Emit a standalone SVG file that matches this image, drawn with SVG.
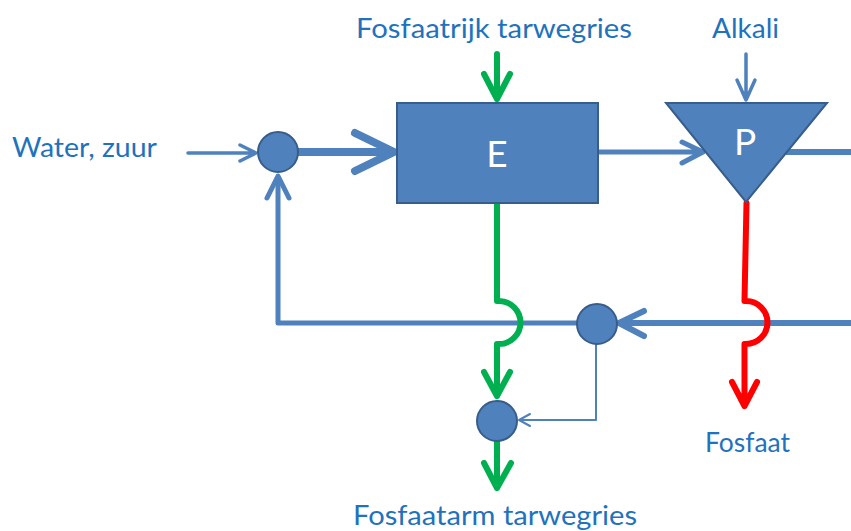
<svg xmlns="http://www.w3.org/2000/svg" width="851" height="531" viewBox="0 0 851 531">
<style>
.lbl{font-family:Lato,"Liberation Sans",sans-serif;font-size:26px;fill:#1F72BD}
.node{fill:#4F81BD;stroke:#385D8A;stroke-width:2}
.nlbl{font-family:Lato,"Liberation Sans",sans-serif;font-size:37px;fill:#FFFFFF;text-anchor:middle}
.b{fill:none;stroke:#4F81BD;stroke-linecap:round;stroke-linejoin:round}
.g{fill:none;stroke:#00B050;stroke-width:6;stroke-linecap:round;stroke-linejoin:round}
.r{fill:none;stroke:#FF0000;stroke-width:6;stroke-linecap:round;stroke-linejoin:round}
</style>
<g id="connectors">
  <!-- water input -->
  <path class="b" stroke-width="3.5" d="M188,153 H256 M240,145 L256,153 L240,161"/>
  <!-- mixer to E thick -->
  <path class="b" stroke-width="8" d="M298,152 H392 M355,133 L394,152 L355,171"/>
  <!-- feedback loop -->
  <path class="b" stroke-width="5" d="M278,177 V323 H577" style="stroke-linecap:butt"/>
  <path class="b" stroke-width="5" d="M267,198 L278,176 L289,198"/>
  <!-- right return into circle 2 -->
  <path class="b" stroke-width="6" d="M851,323 H619" style="stroke-linecap:butt"/>
  <path class="b" stroke-width="6" d="M644,311 L619,323 L644,336"/>
  <!-- circle 2 to circle 3 thin -->
  <path class="b" stroke-width="2" d="M596,344 V420 H519 M530,414 L519,420 L530,426"/>
  <!-- E to P -->
  <path class="b" stroke-width="5" d="M598,152 H703 M682,142 L703,152 L682,163"/>
  <!-- P output -->
  <path class="b" stroke-width="6" d="M786,152 H851" style="stroke-linecap:butt"/>
  <!-- alkali -->
  <path class="b" stroke-width="3.5" d="M746,54 V100 M737,80 L746,100 L755,80"/>
  <!-- green input -->
  <path class="g" d="M497,54 V99 M484,74 L497,99 L510,74"/>
  <!-- green E down with jump -->
  <path class="g" d="M497,204 V301 H499 A21,21 0 0 1 499,344 H497 V396 M484,372 L497,396 L510,372"/>
  <!-- green output -->
  <path class="g" d="M497,442 V488 M484,463 L497,488 L511,463"/>
  <!-- red with jump -->
  <path class="r" d="M746.5,203 L744.5,301 H746 A21,21 0 0 1 746,344 H744.5 V406 M732,382 L744.5,406 L757,382"/>
</g>
<g id="mixer1"><circle class="node" cx="278" cy="152" r="20"/></g>
<g id="mixer2"><circle class="node" cx="597" cy="324" r="20"/></g>
<g id="mixer3"><circle class="node" cx="497" cy="421" r="20"/></g>
<g id="E">
  <rect class="node" x="397" y="103" width="201" height="100"/>
  <text class="nlbl" x="497" y="167">E</text>
</g>
<g id="P">
  <polygon class="node" points="666,103 827,103 746,202"/>
  <text class="nlbl" x="745" y="155">P</text>
</g>
<g id="labels">
  <text class="lbl" x="12" y="157" textLength="145" lengthAdjust="spacingAndGlyphs">Water, zuur</text>
  <text class="lbl" x="356" y="38" textLength="276" lengthAdjust="spacingAndGlyphs">Fosfaatrijk tarwegries</text>
  <text class="lbl" x="712" y="38" textLength="67" lengthAdjust="spacingAndGlyphs">Alkali</text>
  <text class="lbl" x="705" y="452" textLength="85" lengthAdjust="spacingAndGlyphs">Fosfaat</text>
  <text class="lbl" x="353" y="525" textLength="284" lengthAdjust="spacingAndGlyphs">Fosfaatarm tarwegries</text>
</g>
</svg>
